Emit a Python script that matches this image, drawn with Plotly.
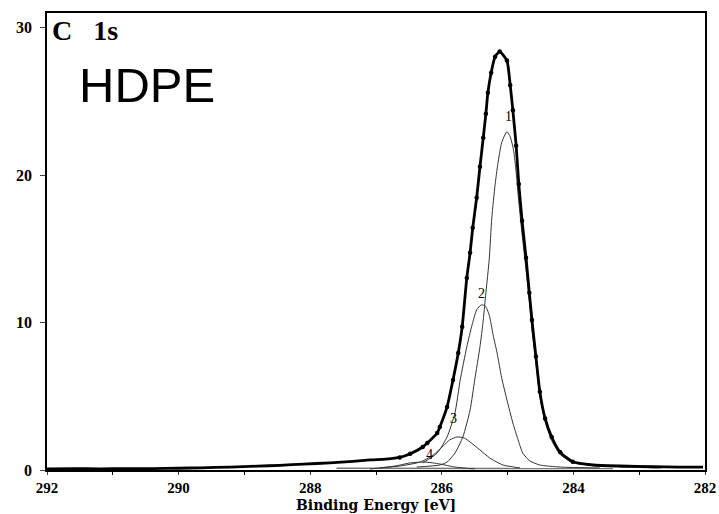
import plotly.graph_objects as go

# ---- data (binding energy in eV, intensity) ----
total_be = [292.0, 291.6, 291.2, 290.8, 290.4, 290.0, 289.67, 289.22, 288.8, 288.46, 288.1,
            287.70, 287.35, 287.09, 286.85, 286.64, 286.48, 286.29, 286.22, 286.07, 286.03,
            285.92, 285.83, 285.75, 285.69, 285.62, 285.57, 285.53, 285.47, 285.42, 285.37,
            285.33, 285.30, 285.25, 285.19, 285.12, 285.01, 284.96, 284.92, 284.87, 284.83,
            284.78, 284.72, 284.67, 284.63, 284.57, 284.51, 284.43, 284.33, 284.20, 284.01,
            283.70, 283.29, 282.79, 282.4, 282.03]
total_int = [0.08, 0.09, 0.08, 0.10, 0.10, 0.12, 0.15, 0.20, 0.26, 0.32, 0.40,
             0.48, 0.58, 0.68, 0.74, 0.85, 1.10, 1.56, 1.83, 2.51, 2.92,
             4.28, 6.11, 7.94, 9.71, 13.03, 14.73, 16.43, 18.47, 20.57, 22.54,
             24.17, 25.59, 26.95, 28.04, 28.38, 27.77, 26.10, 24.40, 22.00, 19.40,
             16.90, 14.40, 12.02, 10.18, 7.70, 5.30, 3.50, 2.24, 1.20, 0.56,
             0.34, 0.27, 0.22, 0.20, 0.20]

peak1_be = [286.38, 286.03, 285.92, 285.80, 285.68, 285.57, 285.50, 285.42, 285.37, 285.33,
            285.28, 285.24, 285.19, 285.15, 285.09, 285.01, 284.96, 284.91, 284.87, 284.83,
            284.78, 284.72, 284.67, 284.63, 284.57, 284.51, 284.43, 284.33, 284.20, 284.01,
            283.70, 283.29, 282.68]
peak1_int = [0.20, 0.34, 0.54, 1.15, 2.24, 4.07, 6.11, 8.35, 10.18, 12.02,
             14.26, 17.11, 19.35, 20.71, 22.20, 22.95, 22.60, 21.70, 20.20, 18.20,
             16.00, 13.60, 11.50, 9.50, 7.30, 5.00, 3.30, 2.00, 1.05, 0.50,
             0.30, 0.20, 0.14]

peak2_be = [286.29, 286.07, 285.92, 285.80, 285.72, 285.62, 285.54, 285.47, 285.40, 285.34,
            285.28, 285.22, 285.16, 285.09, 285.01, 284.92, 284.84, 284.77, 284.66, 284.51,
            284.20, 283.60]
peak2_int = [0.48, 1.15, 2.24, 3.87, 6.11, 8.35, 9.84, 10.86, 11.20, 11.13,
             10.52, 9.16, 7.94, 6.25, 4.75, 3.19, 2.04, 1.15, 0.61, 0.34,
             0.20, 0.14]

peak3_be = [286.94, 286.64, 286.33, 286.13, 285.98, 285.88, 285.77, 285.66, 285.57, 285.42,
            285.27, 285.07, 284.81]
peak3_int = [0.14, 0.27, 0.54, 1.02, 1.63, 2.04, 2.24, 2.17, 1.90, 1.36,
             0.81, 0.34, 0.14]

peak4_be = [287.09, 286.71, 286.48, 286.26, 286.03, 285.80, 285.50]
peak4_int = [0.07, 0.27, 0.48, 0.54, 0.41, 0.20, 0.07]

baseline_be = [287.6, 285.0, 283.4]
baseline_int = [0.12, 0.10, 0.10]

x_ticks = [292, 290, 288, 286, 284, 282]
y_ticks = [0, 10, 20, 30]

peak_labels = ["1", "2", "3", "4"]
label_be = [284.98, 285.40, 285.82, 286.18]
label_int = [24.0, 12.0, 3.5, 1.05]

# ---- figure ----
fig = go.Figure()

fig.add_trace(go.Scatter(x=baseline_be, y=baseline_int, mode="lines",
                         line=dict(color="#777", width=1.5), hoverinfo="skip"))
for bx, by in [(peak1_be, peak1_int), (peak2_be, peak2_int),
               (peak3_be, peak3_int), (peak4_be, peak4_int)]:
    fig.add_trace(go.Scatter(x=bx, y=by, mode="lines",
                             line=dict(color="#333", width=1.0, shape="spline", smoothing=0.6)))

fig.add_trace(go.Scatter(x=total_be, y=total_int, mode="lines",
                         line=dict(color="black", width=2.8, shape="spline", smoothing=0.5)))

pts = [(b, v) for b, v in zip(total_be, total_int) if 284.0 <= b <= 286.7]
fig.add_trace(go.Scatter(x=[p[0] for p in pts], y=[p[1] for p in pts], mode="markers",
                         marker=dict(color="black", size=4.5)))

for t, bx, by in zip(peak_labels, label_be, label_int):
    fig.add_annotation(x=bx, y=by, text=t, showarrow=False,
                       font=dict(family="Liberation Serif", size=14, color="#000000"))

fig.add_annotation(xref="paper", yref="paper", x=0.005, y=1.0, xanchor="left", yanchor="top",
                   text="<b>C&nbsp;&nbsp;&nbsp;1s</b>", showarrow=False,
                   font=dict(family="Liberation Serif", size=28, color="black"))
fig.add_annotation(xref="paper", yref="paper", x=0.045, y=0.905, xanchor="left", yanchor="top",
                   text="HDPE", showarrow=False,
                   font=dict(family="Liberation Sans", size=49, color="black"))
fig.add_annotation(xref="paper", yref="paper", x=0.5, y=-0.076, xanchor="center", yanchor="middle",
                   text="<b>Binding Energy [eV]</b>", showarrow=False,
                   font=dict(family="DejaVu Serif", size=14, color="black"))

fig.update_layout(
    width=719, height=514,
    margin=dict(l=47, r=14, t=13, b=44),
    paper_bgcolor="white", plot_bgcolor="white",
    showlegend=False,
    font=dict(family="Liberation Serif", size=14, color="black"),
)
fig.update_xaxes(range=[292, 282], tickvals=x_ticks, ticktext=["<b>%d</b>" % v for v in x_ticks],
                 automargin=False,
                 showgrid=False, zeroline=False, showline=True, mirror=True,
                 linecolor="black", linewidth=1.5, ticks="outside", ticklen=3,
                 tickfont=dict(family="Liberation Serif", size=15, color="black"),
                 minor=dict(dtick=1, ticks="outside", ticklen=3, tickcolor="black"))
fig.update_yaxes(range=[0, 31], tickvals=y_ticks, ticktext=["<b>%d</b>" % v for v in y_ticks],
                 automargin=False, ticklabelstandoff=5,
                 showgrid=False, zeroline=False, showline=True, mirror=True,
                 linecolor="black", linewidth=1.5, ticks="outside", ticklen=5,
                 tickfont=dict(family="Liberation Serif", size=16, color="black"))

fig.write_html("out.html")
